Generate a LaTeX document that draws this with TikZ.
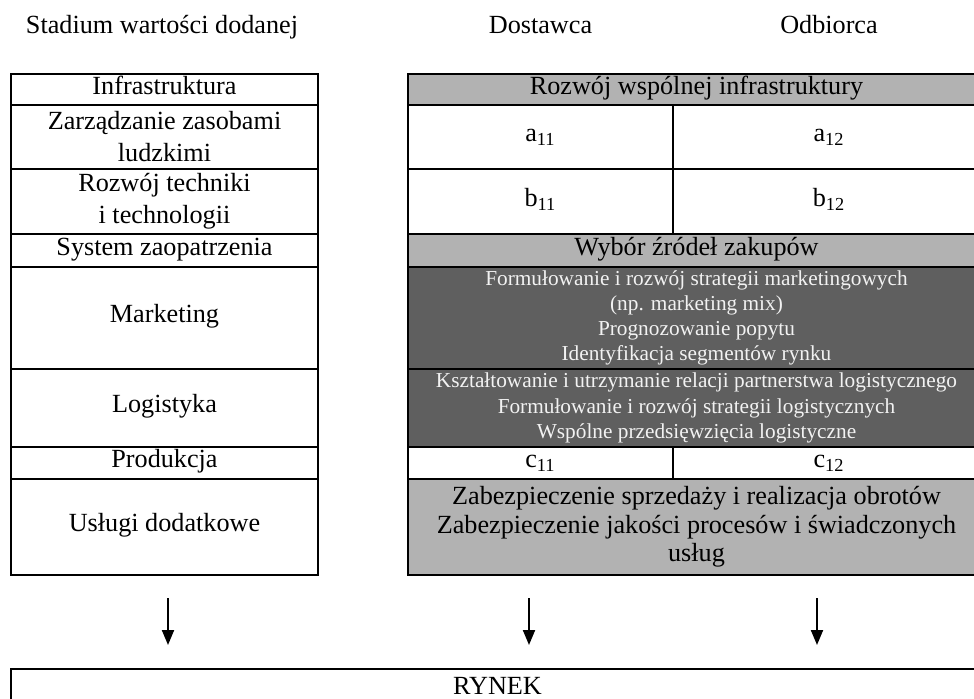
\documentclass[tikz,border=0pt]{standalone}
\usepackage{fontspec}
\setmainfont{Liberation Serif}
\usetikzlibrary{arrows.meta}
\definecolor{lgray}{HTML}{B2B2B2}
\definecolor{dgray}{HTML}{5F5F5F}
\definecolor{ltext}{HTML}{F2F2F2}
\begin{document}
\begin{tikzpicture}[x=0.5pt,y=-0.5pt,
  cell/.style={draw=black, line width=1pt, rectangle, inner sep=0pt, align=center,
    font=\fontsize{13.1}{16}\selectfont},
  one/.style={text height=0.69em, text depth=0.22em},
  light/.style={cell, fill=lgray},
  dark/.style={cell, fill=dgray, text=ltext, font=\fontsize{10.65}{12.6}\selectfont},
  hdr/.style={font=\fontsize{13.1}{16}\selectfont, inner sep=0pt, anchor=base},
  arr/.style={-{Triangle[length=7.5pt,width=6pt]}, line width=1pt}]
\clip (0,0) rectangle (974,698);
% headers
\node[hdr] (h1) at (162,33) {Stadium wartości dodanej};
\node[hdr] (h2) at (540.5,33) {Dostawca};
\node[hdr] (h3) at (829,33) {Odbiorca};
% left column
\node[cell, one, minimum width=153.5pt, minimum height=15.5pt] (l1) at (164.5,89.5) {Infrastruktura};
\node[cell, minimum width=153.5pt, minimum height=32pt] (l2) at (164.5,137) {Zarządzanie zasobami\\ludzkimi};
\node[cell, minimum width=153.5pt, minimum height=32.5pt] (l3) at (164.5,201.5) {Rozwój techniki\\i technologii};
\node[cell, one, minimum width=153.5pt, minimum height=16.5pt] (l4) at (164.5,250.5) {System zaopatrzenia};
\node[cell, one, minimum width=153.5pt, minimum height=51pt] (l5) at (164.5,318) {Marketing};
\node[cell, one, minimum width=153.5pt, minimum height=39pt] (l6) at (164.5,408) {Logistyka};
\node[cell, one, minimum width=153.5pt, minimum height=16pt] (l7) at (164.5,463) {Produkcja};
\node[cell, one, minimum width=153.5pt, minimum height=48pt] (l8) at (164.5,527) {Usługi dodatkowe};
% right part
\node[light, one, minimum width=288.5pt, minimum height=15.5pt] (r1) at (696.5,89.5) {Rozwój wspólnej infrastruktury};
\node[cell, one, minimum width=132.5pt, minimum height=32pt] (a11) at (540.5,137) {a\textsubscript{11}};
\node[cell, one, minimum width=156pt, minimum height=32pt] (a12) at (829,137) {a\textsubscript{12}};
\node[cell, one, minimum width=132.5pt, minimum height=32.5pt] (b11) at (540.5,201.5) {b\textsubscript{11}};
\node[cell, one, minimum width=156pt, minimum height=32.5pt] (b12) at (829,201.5) {b\textsubscript{12}};
\node[light, one, minimum width=288.5pt, minimum height=16.5pt] (r4) at (696.5,250.5) {Wybór źródeł zakupów};
\node[dark, minimum width=288.5pt, minimum height=51pt] (r5) at (696.5,318) {Formułowanie i rozwój strategii marketingowych\\(np. marketing mix)\\Prognozowanie popytu\\Identyfikacja segmentów rynku};
\node[dark, minimum width=288.5pt, minimum height=39pt] (r6) at (696.5,408) {Kształtowanie i utrzymanie relacji partnerstwa logistycznego\\Formułowanie i rozwój strategii logistycznych\\Wspólne przedsięwzięcia logistyczne};
\node[cell, one, minimum width=132.5pt, minimum height=16pt] (c11) at (540.5,463) {c\textsubscript{11}};
\node[cell, one, minimum width=156pt, minimum height=16pt] (c12) at (829,463) {c\textsubscript{12}};
\node[light, minimum width=288.5pt, minimum height=48pt, font=\fontsize{13.1}{14.25}\selectfont] (r8) at (696.5,527) {Zabezpieczenie sprzedaży i realizacja obrotów\\Zabezpieczenie jakości procesów i świadczonych\\usług};
% market
\node[cell, minimum width=486.5pt, minimum height=17pt] (rynek) at (497.5,686) {RYNEK};
% arrows
\coordinate (s1) at (168,598); \coordinate (e1) at (168,645);
\coordinate (s2) at (529,598); \coordinate (e2) at (529,645);
\coordinate (s3) at (817,598); \coordinate (e3) at (817,645);
\draw[arr] (s1) -- (e1);
\draw[arr] (s2) -- (e2);
\draw[arr] (s3) -- (e3);
\end{tikzpicture}
\end{document}
